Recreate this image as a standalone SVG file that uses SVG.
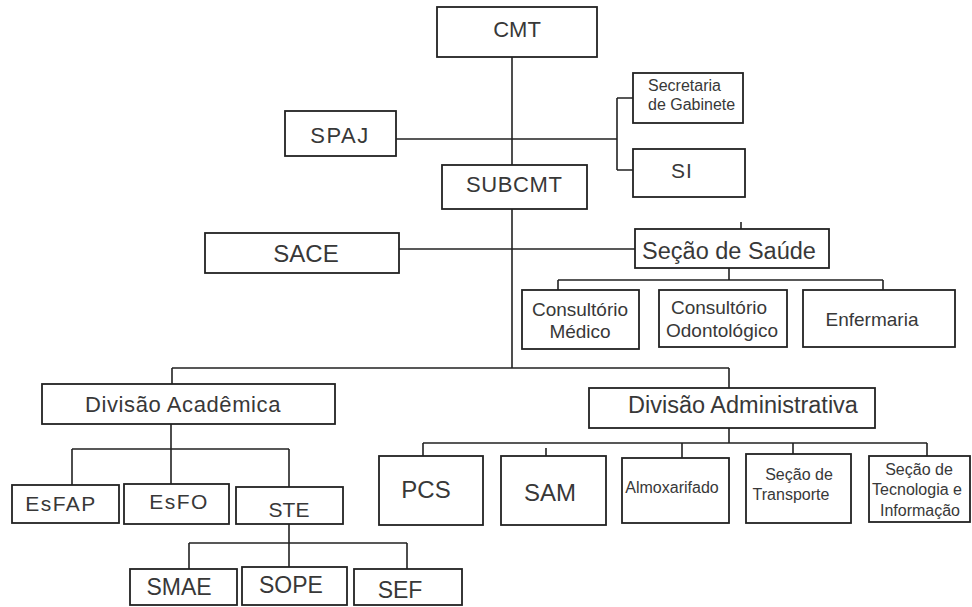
<svg xmlns="http://www.w3.org/2000/svg" width="972" height="607" viewBox="0 0 972 607">
<style>
rect.b{fill:#fff;stroke:#222;stroke-width:1.8}
.c path{fill:none;stroke:#222;stroke-width:1.6}
text{font-family:"Liberation Sans",Arial,sans-serif;fill:#383838;text-anchor:middle}
.s16{font-size:16px}
.s19{font-size:19px}
.s22{font-size:22px}
.s24{font-size:24px}
</style>
<rect width="972" height="607" fill="#fff"/>
<g class="c" id="connectors">
<path d="M512 57V165"/>
<path d="M396 139H617M617 98V170M617 98H633M617 170H633"/>
<path d="M512 209V368"/>
<path d="M399 249H635"/>
<path d="M741 222V229"/>
<path d="M729 268V280M558 280H883M558 280V290M883 280V290"/>
<path d="M172 368H729M172 368V384M729 368V388"/>
<path d="M171 424V449M72 449H289M72 449V485M171 449V484M289 449V487"/>
<path d="M289 524V543M189 543H407M189 543V569M289 543V567M407 543V569"/>
<path d="M729 428V443M423 443H927M423 443V456M546 448V456M682 443V458M793 443V454M927 443V456"/>
</g>
<g id="cmt"><rect class="b" x="437" y="7" width="160" height="50"/><text class="s22" x="517" y="37">CMT</text></g>
<g id="spaj"><rect class="b" x="285" y="111" width="111" height="45"/><text class="s22" x="340" y="143" letter-spacing="1.5">SPAJ</text></g>
<g id="secretaria"><rect class="b" x="633" y="73" width="110" height="50"/><text class="s16" x="648" y="91" style="text-anchor:start">Secretaria</text><text class="s16" x="648" y="110" style="text-anchor:start">de Gabinete</text></g>
<g id="si"><rect class="b" x="633" y="149" width="112" height="48"/><text x="682" y="178" font-size="21" letter-spacing="1">SI</text></g>
<g id="subcmt"><rect class="b" x="442" y="165" width="145" height="44"/><text class="s22" x="514" y="192" textLength="96">SUBCMT</text></g>
<g id="sace"><rect class="b" x="205" y="233" width="194" height="40"/><text class="s24" x="306" y="262">SACE</text></g>
<g id="saude"><rect class="b" x="635" y="229" width="194" height="39"/><text x="729" y="259" font-size="23.5">Seção de Saúde</text></g>
<g id="medico"><rect class="b" x="522" y="290" width="117" height="59"/><text class="s19" x="580" y="316">Consultório</text><text class="s19" x="580" y="338">Médico</text></g>
<g id="odonto"><rect class="b" x="659" y="290" width="128" height="57"/><text class="s19" x="719" y="314">Consultório</text><text class="s19" x="722" y="337">Odontológico</text></g>
<g id="enfermaria"><rect class="b" x="803" y="290" width="152" height="57"/><text class="s19" x="872" y="326">Enfermaria</text></g>
<g id="divacad"><rect class="b" x="42" y="384" width="293" height="40"/><text class="s22" x="183" y="412" letter-spacing="0.6">Divisão Acadêmica</text></g>
<g id="divadm"><rect class="b" x="589" y="388" width="286" height="40"/><text x="743" y="413" font-size="23.5">Divisão Administrativa</text></g>
<g id="esfap"><rect class="b" x="12" y="485" width="107" height="38"/><text x="61" y="511" font-size="21" letter-spacing="1.5">EsFAP</text></g>
<g id="esfo"><rect class="b" x="124" y="484" width="105" height="40"/><text x="179" y="509" font-size="21" letter-spacing="1.5">EsFO</text></g>
<g id="ste"><rect class="b" x="236" y="487" width="107" height="37"/><text x="289" y="517" font-size="21">STE</text></g>
<g id="smae"><rect class="b" x="130" y="569" width="107" height="36"/><text x="179" y="595" font-size="23">SMAE</text></g>
<g id="sope"><rect class="b" x="242" y="567" width="105" height="38"/><text x="291" y="593" font-size="23">SOPE</text></g>
<g id="sef"><rect class="b" x="354" y="569" width="108" height="36"/><text x="400" y="598" font-size="23">SEF</text></g>
<g id="pcs"><rect class="b" x="379" y="456" width="104" height="69"/><text class="s24" x="426" y="498">PCS</text></g>
<g id="sam"><rect class="b" x="501" y="456" width="105" height="69"/><text class="s24" x="550" y="501">SAM</text></g>
<g id="almox"><rect class="b" x="622" y="458" width="107" height="65"/><text class="s16" x="672" y="493">Almoxarifado</text></g>
<g id="transporte"><rect class="b" x="746" y="454" width="105" height="69"/><text class="s16" x="799" y="480">Seção de</text><text class="s16" x="791" y="500">Transporte</text></g>
<g id="tecnologia"><rect class="b" x="869" y="456" width="101" height="66"/><text class="s16" x="919" y="475">Seção de</text><text class="s16" x="917" y="495">Tecnologia e</text><text class="s16" x="920" y="516">Informação</text></g>
</svg>
